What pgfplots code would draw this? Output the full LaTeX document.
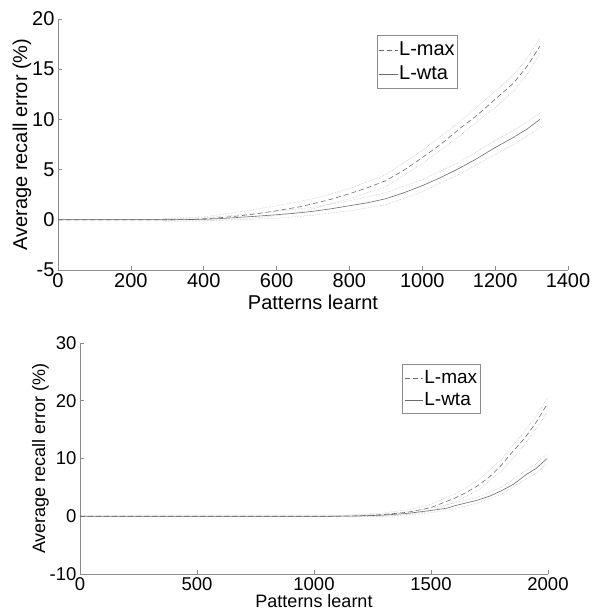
\documentclass[border=0pt]{standalone}
\usepackage{fontspec}
\setmainfont{Liberation Sans}
\usepackage{pgfplots}
\pgfplotsset{compat=1.18}
\definecolor{axgray}{gray}{0.55}
\definecolor{maxcol}{gray}{0.42}
\definecolor{wtacol}{gray}{0.42}
\definecolor{bandcol}{gray}{0.72}
\pgfplotsset{
  mstyle/.style={
    scale only axis,
    axis lines*=left,
    axis line style={axgray, line width=0.8pt},
    tick style={axgray, line width=0.6pt},
    tick align=inside,
    major tick length=4pt,
    /pgf/number format/assume math mode=true,
    /pgf/number format/1000 sep={},
    legend cell align=left,
    legend style={draw=axgray, line width=0.6pt, fill=white, inner xsep=2pt, inner ysep=3pt, row sep=1pt,
      nodes={inner sep=1pt, text height=16pt, text depth=5pt}},
    legend image code/.code={\draw[#1] (-0.05cm,0cm) -- (0.6cm,0cm);},
  },
  mdash/.style={dash pattern=on 5pt off 3pt},
}
\begin{document}
\begin{tikzpicture}
\useasboundingbox (0pt,0pt) rectangle (595pt,611pt);
% ---------------- top axis ----------------
\begin{axis}[mstyle,
  at={(58pt,341pt)}, anchor=south west,
  width=510pt, height=251pt,
  xmin=0, xmax=1400, ymin=-5, ymax=20,
  xtick={0,200,...,1400}, ytick={-5,0,5,10,15,20},
  tick label style={font=\fontsize{20}{22}\selectfont},
  label style={font=\fontsize{20}{22}\selectfont},
  xlabel={Patterns learnt}, ylabel={Average recall error (\%)},
  xlabel style={yshift=0pt}, ylabel style={yshift=-6pt},
  legend style={at={(0.625,0.936)}, anchor=north west, font=\fontsize{20}{22}\selectfont},
]
\addplot[maxcol, mdash, line width=0.6pt] coordinates {(0,0) (300,0) (350,0.03) (400,0.1) (450,0.22) (500,0.4) (550,0.62) (600,0.9) (664,1.3) (700,1.6) (750,2.05) (800,2.6) (850,3.2) (900,3.9) (950,4.95) (1000,6.2) (1050,7.5) (1100,9.0) (1150,10.4) (1200,12.0) (1250,13.6) (1290,15.4) (1323,17.3)};
\addlegendentry{L-max}
\addplot[wtacol, solid, line width=0.6pt] coordinates {(0,0) (300,0) (350,0.02) (400,0.05) (450,0.13) (500,0.25) (550,0.37) (600,0.5) (664,0.7) (700,0.85) (750,1.1) (800,1.4) (850,1.7) (900,2.1) (950,2.7) (1000,3.4) (1050,4.2) (1100,5.1) (1150,6.1) (1200,7.2) (1250,8.2) (1290,9.1) (1323,10.0)};
\addlegendentry{L-wta}
% bands
\addplot[bandcol, densely dotted, line width=0.5pt, forget plot] coordinates {(290,0.15) (400,0.3) (500,0.8) (600,1.4) (700,2.1) (800,3.1) (900,4.5) (1000,6.9) (1100,9.7) (1200,12.8) (1250,14.4) (1290,16.2) (1323,18.1)};
\addplot[bandcol, densely dotted, line width=0.5pt, forget plot] coordinates {(290,-0.15) (400,-0.1) (500,0.05) (600,0.4) (700,1.1) (800,2.1) (900,3.3) (1000,5.6) (1100,8.3) (1200,11.2) (1250,12.8) (1290,14.6) (1323,16.6)};
\addplot[bandcol, densely dotted, line width=0.5pt, forget plot] coordinates {(290,0.1) (400,0.2) (500,0.5) (600,0.85) (700,1.25) (800,1.9) (900,2.7) (1000,4.0) (1100,5.7) (1200,7.9) (1250,8.9) (1290,9.8) (1323,10.6)};
\addplot[bandcol, densely dotted, line width=0.5pt, forget plot] coordinates {(290,-0.1) (400,-0.1) (500,0.0) (600,0.15) (700,0.45) (800,0.9) (900,1.5) (1000,2.8) (1100,4.5) (1200,6.5) (1250,7.5) (1290,8.4) (1323,9.2)};
\end{axis}
% ---------------- bottom axis ----------------
\begin{axis}[mstyle,
  at={(80pt,37pt)}, anchor=south west,
  width=468pt, height=231pt,
  xmin=0, xmax=2000, ymin=-10, ymax=30,
  xtick={0,500,...,2000}, ytick={-10,0,10,20,30},
  tick label style={font=\fontsize{18.5}{20}\selectfont},
  label style={font=\fontsize{18}{20}\selectfont},
  xlabel={Patterns learnt}, ylabel={Average recall error (\%)},
  xlabel style={yshift=3pt}, ylabel style={yshift=-6pt},
  legend style={at={(0.688,0.909)}, anchor=north west, font=\fontsize{19}{21}\selectfont,
    nodes={inner sep=1pt, text height=15pt, text depth=4pt}},
]
\addplot[maxcol, mdash, line width=0.6pt] coordinates {(0,0) (1100,0) (1200,0.1) (1300,0.3) (1400,0.7) (1466,1.2) (1500,1.5) (1568,2.6) (1600,3.1) (1650,4.1) (1700,5.3) (1752,6.9) (1800,8.8) (1851,11.3) (1900,13.5) (1950,16.3) (1996,19.4)};
\addlegendentry{L-max}
\addplot[wtacol, solid, line width=0.6pt] coordinates {(0,0) (1100,0) (1200,0.05) (1300,0.2) (1400,0.5) (1500,1.0) (1568,1.4) (1600,1.8) (1650,2.3) (1700,2.8) (1752,3.5) (1800,4.4) (1851,5.5) (1910,7.3) (1950,8.3) (1996,10.0)};
\addlegendentry{L-wta}
\addplot[bandcol, densely dotted, line width=0.5pt, forget plot] coordinates {(1080,0.1) (1200,0.3) (1300,0.6) (1400,1.1) (1500,2.1) (1600,3.8) (1700,6.1) (1800,9.8) (1900,14.7) (1950,17.4) (1996,20.4)};
\addplot[bandcol, densely dotted, line width=0.5pt, forget plot] coordinates {(1080,-0.1) (1200,-0.1) (1300,0.0) (1400,0.3) (1500,0.9) (1600,2.4) (1700,4.5) (1800,7.8) (1900,12.4) (1950,15.2) (1996,18.0)};
\addplot[bandcol, densely dotted, line width=0.5pt, forget plot] coordinates {(1080,0.05) (1200,0.2) (1300,0.4) (1400,0.8) (1500,1.4) (1600,2.3) (1700,3.3) (1800,5.0) (1900,7.8) (1950,9.1) (1996,10.9)};
\addplot[bandcol, densely dotted, line width=0.5pt, forget plot] coordinates {(1080,-0.05) (1200,-0.1) (1300,0.0) (1400,0.2) (1500,0.6) (1600,1.3) (1700,2.3) (1800,3.8) (1900,6.3) (1950,7.5) (1996,9.1)};
\end{axis}
\end{tikzpicture}
\end{document}
